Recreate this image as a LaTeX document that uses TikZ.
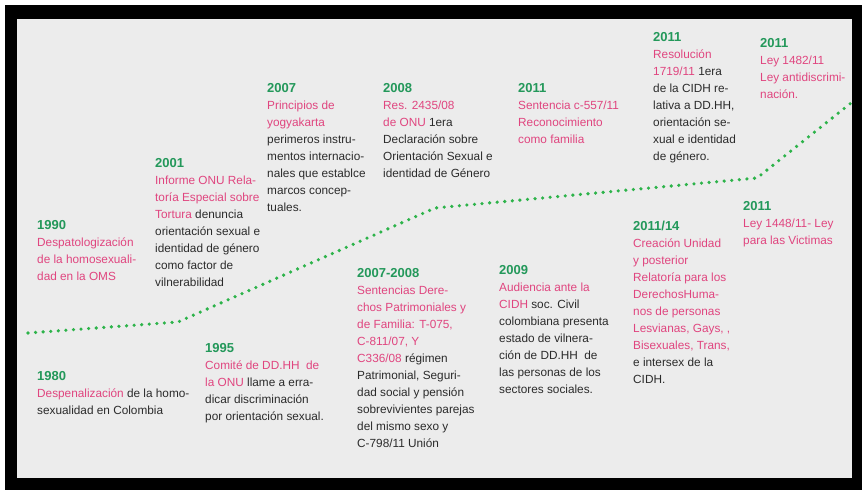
\documentclass[tikz,border=0pt]{standalone}
\usepackage{fontspec}
\setmainfont{Liberation Sans}
\definecolor{yr}{HTML}{23985A}
\definecolor{pk}{HTML}{E0457F}
\definecolor{txt}{HTML}{2B2B2B}
\definecolor{bg}{HTML}{ECECEC}
\definecolor{dotg}{HTML}{2DB34A}
\newcommand\yr[1]{\textcolor{yr}{\fontsize{13}{17}\selectfont\textbf{#1}}}
\newcommand\pk[1]{\textcolor{pk}{#1}}
\begin{document}
\begin{tikzpicture}[x=1pt,y=-1pt,
  ev/.style={anchor=north west, inner sep=0pt, align=left, text=txt,
    font=\fontsize{11.8}{17}\selectfont},
  dotline/.style={dotg, line width=3.6pt, line cap=round, dash pattern=on 0pt off 7.6pt}]
\useasboundingbox (0,0) rectangle (865,494);
\fill[white] (0,0) rectangle (865,494);
\fill[black] (5,5) rectangle (862,490);
\fill[bg] (17,19) rectangle (852,478);
% dotted timeline
\coordinate (p0) at (28,333);
\coordinate (p1) at (178,322);
\coordinate (p2) at (435,208);
\coordinate (p3) at (757,178);
\coordinate (p4) at (851,103);
\draw[dotline] (p0) -- (p1) -- (p2) -- (p3) -- (p4);
% events
\node[ev] (e1990) at (37,220.5) {\yr{1990}\\ \pk{Despatologización}\\ \pk{de la homosexuali-}\\ \pk{dad en la OMS}};
\node[ev] (e1980) at (37,371.5) {\yr{1980}\\ \pk{Despenalización} de la homo-\\ sexualidad en Colombia};
\node[ev] (e2001) at (155,158.5) {\yr{2001}\\ \pk{Informe ONU Rela-}\\ \pk{toría Especial sobre}\\ \pk{Tortura} denuncia\\ orientación sexual e\\ identidad de género\\ como factor de\\ vilnerabilidad};
\node[ev] (e2007) at (267,83.5) {\yr{2007}\\ \pk{Principios de}\\ \pk{yogyakarta}\\ perimeros instru-\\ mentos internacio-\\ nales que establce\\ marcos concep-\\ tuales.};
\node[ev] (e1995) at (205,343.5) {\yr{1995}\\ \pk{Comité de DD.HH~ de}\\ \pk{la ONU} llame a erra-\\ dicar discriminación\\ por orientación sexual.};
\node[ev] (e2008) at (383,83.5) {\yr{2008}\\ \pk{Res. 2435/08}\\ \pk{de ONU} 1era\\ Declaración sobre\\ Orientación Sexual e\\ identidad de Género};
\node[ev] (e0708) at (357,268.5) {\yr{2007-2008}\\ \pk{Sentencias Dere-}\\ \pk{chos Patrimoniales y}\\ \pk{de Familia: T-075,}\\ \pk{C-811/07, Y}\\ \pk{C336/08} régimen\\ Patrimonial, Seguri-\\ dad social y pensión\\ sobrevivientes parejas\\ del mismo sexo y\\ C-798/11 Unión};
\node[ev] (e2011a) at (518,83.5) {\yr{2011}\\ \pk{Sentencia c-557/11}\\ \pk{Reconocimiento}\\ \pk{como familia}};
\node[ev] (e2009) at (499,265.5) {\yr{2009}\\ \pk{Audiencia ante la}\\ \pk{CIDH} soc. Civil\\ colombiana presenta\\ estado de vilnera-\\ ción de DD.HH~ de\\ las personas de los\\ sectores sociales.};
\node[ev] (e2011b) at (653,32.5) {\yr{2011}\\ \pk{Resolución}\\ \pk{1719/11} 1era\\ de la CIDH re-\\ lativa a DD.HH,\\ orientación se-\\ xual e identidad\\ de género.};
\node[ev] (e2011c) at (760,38.5) {\yr{2011}\\ \pk{Ley 1482/11}\\ \pk{Ley antidiscrimi-}\\ \pk{nación.}};
\node[ev] (e1114) at (633,220.5) {\yr{2011/14}\\ \pk{Creación Unidad}\\ \pk{y posterior}\\ \pk{Relatoría para los}\\ \pk{DerechosHuma-}\\ \pk{nos de personas}\\ \pk{Lesvianas, Gays, ,}\\ \pk{Bisexuales, Trans,}\\ e intersex de la\\ CIDH.};
\node[ev] (e2011d) at (743,201.5) {\yr{2011}\\ \pk{Ley 1448/11- Ley}\\ \pk{para las Victimas}};
\end{tikzpicture}
\end{document}
